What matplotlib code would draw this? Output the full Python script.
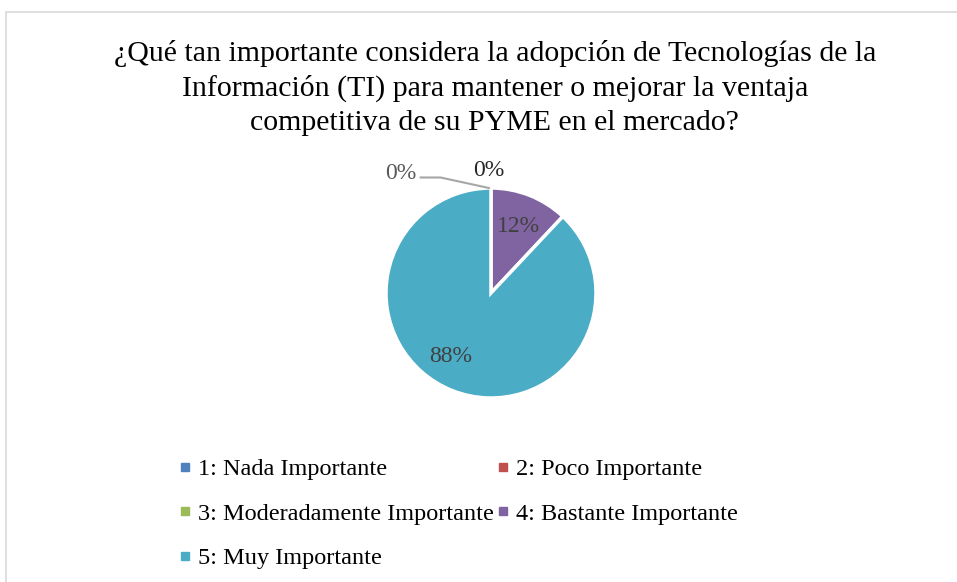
import numpy as np
import matplotlib.pyplot as plt
from matplotlib.lines import Line2D
from matplotlib.patches import Rectangle

plt.rcParams["font.family"] = ["Liberation Serif", "DejaVu Serif"]

title = ("¿Qué tan importante considera la adopción de Tecnologías de la\n"
         "Información (TI) para mantener o mejorar la ventaja\n"
         "competitiva de su PYME en el mercado?")
categories = ["1: Nada Importante", "2: Poco Importante", "3: Moderadamente Importante",
              "4: Bastante Importante", "5: Muy Importante"]
values = [0, 0, 0, 12, 88]
colors = ["#4F81BD", "#C0504D", "#9BBB59", "#8064A2", "#4BACC6"]

W, H = 957, 582
fig = plt.figure(figsize=(W / 100, H / 100), dpi=100)

# chart area frame (cut by the image edges)
fig.patches.append(Rectangle((6 / W, -0.1), 1.2, 1 - 12 / H + 0.1, transform=fig.transFigure,
                             fill=False, edgecolor="#D9D9D9", linewidth=1.2))

fig.text(0.517, 1 - 40 / H, title, ha="center", va="top", fontsize=21.5,
         linespacing=1.38, color="#000000")

cx, cy, r = 491, 293, 105
ax = fig.add_axes([(cx - r) / W, 1 - (cy + r) / H, 2 * r / W, 2 * r / H])
wedges, _ = ax.pie(values, colors=colors, startangle=90, counterclock=False, radius=1,
                   wedgeprops=dict(edgecolor="white", linewidth=2.5))
ax.set_xlim(-1, 1)
ax.set_ylim(-1, 1)
ax.set_aspect("equal")

lab_color = "#404040"
# labels for the non-zero slices
total = sum(values)
angles = np.cumsum([0] + values) / total * 360
for i, (v, a0, a1) in enumerate(zip(values, angles[:-1], angles[1:])):
    if v == 0:
        continue
    mid = 90 - (a0 + a1) / 2
    if i == 4:
        mid -= 12
    rr = 0.7
    ax.text(rr * np.cos(np.radians(mid)), rr * np.sin(np.radians(mid)) - 0.02, f"{v}%",
            ha="center", va="center", fontsize=17, color=lab_color, clip_on=False)

# zero-valued slices sit at the top of the pie
ax.text(-0.02, 1.17, f"{values[2]}%", ha="center", va="center", fontsize=17,
        color="#262626", clip_on=False)
ax.text(-0.86, 1.14, f"{values[0]}%", ha="center", va="center", fontsize=17,
        color="#595959", clip_on=False)
ax.plot([-0.67, -0.48, -0.02], [1.10, 1.10, 1.0], color="#A6A6A6", lw=1.5, clip_on=False)

handles = [Line2D([], [], marker="s", linestyle="none", markersize=6,
                  markerfacecolor=c, markeredgecolor=c) for c in colors]
order = [0, 2, 4, 1, 3]
fig.legend([handles[i] for i in order], [categories[i] for i in order],
           ncol=2, loc="upper left", bbox_to_anchor=(180 / W, 1 - 458 / H),
           frameon=False, fontsize=17.5, handlelength=0.45, handletextpad=0.3,
           columnspacing=0.15, labelspacing=0.93, borderaxespad=0, borderpad=0)

fig.savefig("out.png", dpi=100)
